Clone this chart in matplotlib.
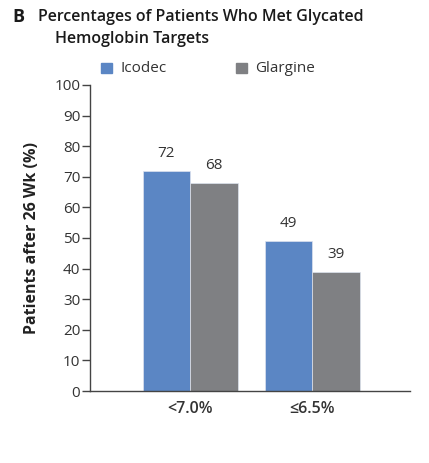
import matplotlib.pyplot as plt
import numpy as np
from matplotlib.patches import Rectangle

plt.rcParams['font.family'] = ['Open Sans', 'DejaVu Sans']

categories = ["<7.0%", "≤6.5%"]
icodec = [72, 49]
glargine = [68, 39]
series_names = ["Icodec", "Glargine"]
yticks = list(range(0, 101, 10))

blue = '#5b86c4'
gray = '#7f8083'
txt = '#333333'

fig = plt.figure(figsize=(4.29, 4.63), dpi=100)
ax = fig.add_axes([0.2098, 0.1555, 0.7459, 0.661])

x = np.arange(len(categories))
w = 0.39
b1 = ax.bar(x - w / 2, icodec, w, color=blue, edgecolor='#dde3ee', linewidth=0.5)
b2 = ax.bar(x + w / 2, glargine, w, color=gray, edgecolor='#dde3ee', linewidth=0.5)

for bars, vals in ((b1, icodec), (b2, glargine)):
    for r, v in zip(bars, vals):
        ax.text(r.get_x() + r.get_width() / 2, v + 3.2, str(v), ha='center', va='bottom',
                fontsize=11, color=txt)

ax.set_xlim(-0.82, 1.8)
ax.set_ylim(0, 100)
ax.set_yticks(yticks)
ax.tick_params(axis='y', direction='out', length=6, width=1, color='#444444',
               labelsize=11, labelcolor=txt, pad=1)
ax.set_xticks(x)
ax.set_xticklabels(categories, fontsize=11.5, fontweight='semibold', color=txt)
ax.tick_params(axis='x', length=0, pad=7)
for s in ('top', 'right'):
    ax.spines[s].set_visible(False)
ax.spines['left'].set_color('#444444')
ax.spines['bottom'].set_color('#444444')
ax.spines['left'].set_linewidth(1)
ax.spines['bottom'].set_linewidth(1)

ax.set_ylabel("Patients after 26 Wk (%)", fontsize=11.5, fontweight='bold', color='#222222', labelpad=10)

fig.text(12 / 429, 1 - 17 / 463, "B", fontsize=13, fontweight='bold', color='#1a1a1a', va='center')
fig.text(38 / 429, 1 - 17 / 463, "Percentages of Patients Who Met Glycated", fontsize=11.5,
         fontweight='semibold', color='#1a1a1a', va='center')
fig.text(55 / 429, 1 - 39 / 463, "Hemoglobin Targets", fontsize=11.5,
         fontweight='semibold', color='#1a1a1a', va='center')

for xs, c, name in ((101, blue, series_names[0]), (236, gray, series_names[1])):
    fig.patches.append(Rectangle((xs / 429, 1 - 73 / 463), 11 / 429, 10 / 463,
                                 transform=fig.transFigure, color=c))
    fig.text((xs + 19) / 429, 1 - 68 / 463, name, fontsize=11, color=txt, va='center')

fig.savefig('out.png', dpi=100)
